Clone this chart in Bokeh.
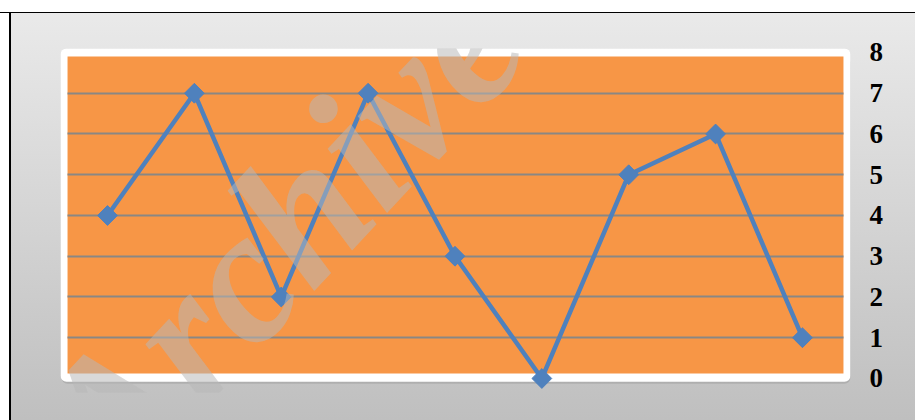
from bokeh.plotting import figure
from bokeh.models import Range1d, FixedTicker, BoxAnnotation, Label, ColumnDataSource
from bokeh.embed import file_html
from bokeh.resources import INLINE

# ---- data ----
points = [1, 2, 3, 4, 5, 6, 7, 8, 9]
values = [4, 7, 2, 7, 3, 0, 5, 6, 1]
y_ticks = [0, 1, 2, 3, 4, 5, 6, 7, 8]
grid_ticks = [1, 2, 3, 4, 5, 6, 7]
watermark = "Archive of SID"

src = ColumnDataSource(data=dict(x=points, y=values))

p = figure(width=915, height=420, output_backend="svg", toolbar_location=None,
           x_range=Range1d(0.459, 9.553), y_range=Range1d(-0.344, 8.098),
           x_axis_location=None, y_axis_location="right",
           min_border_left=60, min_border_right=65, min_border_top=48, min_border_bottom=28)

p.border_fill_color = None
p.background_fill_color = None
p.outline_line_color = None
p.styles = {
    "background": ("linear-gradient(to bottom, #ffffff 0px, #ffffff 12px, #000000 12px, #000000 13.5px, transparent 13.5px), "
                   "linear-gradient(to right, #ffffff 0px, #ffffff 9px, #000000 9px, #000000 11px, transparent 11px), "
                   "linear-gradient(to bottom, #ebebeb 0%, #bfbfbf 100%)")
}

# subtle shadow, white rounded frame and orange plot area
shadow_box = BoxAnnotation(left=0.47, right=9.553, bottom=-0.13, top=7.9,
                           fill_color="#000000", fill_alpha=0.10, line_color=None,
                           border_radius=6, level="image")
white_box = BoxAnnotation(left=0.459, right=9.553, bottom=-0.08, top=8.098,
                          fill_color="#ffffff", fill_alpha=1.0, line_color=None,
                          border_radius=6, level="image")
orange_box = BoxAnnotation(left=0.540, right=9.472, bottom=0.123, top=7.90,
                           fill_color="#F79646", fill_alpha=1.0, line_color=None,
                           level="image")
p.add_layout(shadow_box)
p.add_layout(white_box)
p.add_layout(orange_box)

# grid
p.xgrid.visible = False
p.ygrid.ticker = FixedTicker(ticks=grid_ticks)
p.ygrid.grid_line_color = "#8a8784"
p.ygrid.grid_line_width = 2
p.ygrid.cross_bounds = (0.540, 9.472)

# right axis
ax = p.yaxis[0]
ax.ticker = FixedTicker(ticks=y_ticks)
ax.axis_line_color = None
ax.major_tick_line_color = None
ax.minor_tick_line_color = None
ax.major_tick_out = 0
ax.major_tick_in = 0
ax.major_label_standoff = 19
ax.major_label_text_font = "Liberation Serif"
ax.major_label_text_font_style = "bold"
ax.major_label_text_font_size = "27px"
ax.major_label_text_color = "#000000"

# series
p.line("x", "y", source=src, line_color="#4F81BD", line_width=4.5)
p.scatter("x", "y", source=src, marker="square", size=14, angle=45, angle_units="deg",
          fill_color="#4F81BD", line_color="#4F81BD")

# watermark
wm = Label(x=0.574, y=-1.963, text=watermark, angle=47, angle_units="deg",
           text_font="Liberation Serif", text_font_style="bold italic",
           text_font_size="190px", text_color="#b7b7b7", text_alpha=0.53,
           text_align="left", text_baseline="alphabetic", level="overlay")
p.add_layout(wm)

open("out.html", "w").write(file_html(p, INLINE))
